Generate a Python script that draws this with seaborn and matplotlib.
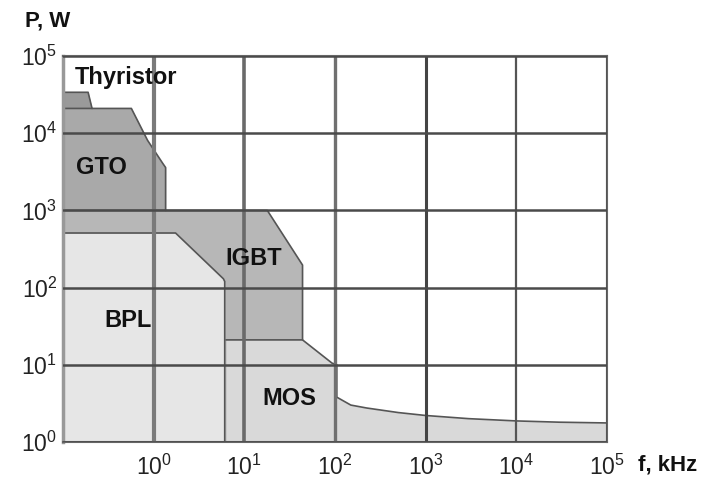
import numpy as np
import matplotlib
matplotlib.use("Agg")
import matplotlib.pyplot as plt
import seaborn as sns

# region boundaries (f in kHz, P in W)
thy_f = [0.1, 0.19, 0.21]
thy_p = [34000, 34000, 21000]

gto_f = [0.1, 0.57, 0.86, 1.26, 1.36, 1.36]
gto_p = [21000, 21000, 8100, 4100, 3600, 1000]

igbt_f = [0.1, 18, 44, 44]
igbt_p = [1000, 1000, 196, 21]

bpl_f = [0.1, 1.75, 5.9, 6.1, 6.1]
bpl_p = [510, 510, 130, 120, 1]

mos_f = [6.3, 44, 93, 105, 105, 150, 224, 500, 1000, 3000, 10000, 30000, 100000]
mos_p = [21, 21, 10.5, 10, 3.8, 3.0, 2.75, 2.4, 2.2, 2.0, 1.87, 1.8, 1.76]

regions = [
    ("Thyristor", thy_f, thy_p, "#9a9a9a"),
    ("GTO", gto_f, gto_p, "#a9a9a9"),
    ("IGBT", igbt_f, igbt_p, "#b7b7b7"),
    ("BPL", bpl_f, bpl_p, "#e6e6e6"),
    ("MOS", mos_f, mos_p, "#d9d9d9"),
]

# label positions
labels = {"Thyristor": (0.134, 53500), "GTO": (0.141, 3550),
          "IGBT": (6.25, 240), "BPL": (0.288, 37), "MOS": (16, 3.6)}

sns.set_style("white")
plt.rcParams['font.family'] = ['Liberation Sans', 'DejaVu Sans']
plt.rcParams['mathtext.fontset'] = 'custom'
plt.rcParams['mathtext.rm'] = 'Liberation Sans'
plt.rcParams['mathtext.it'] = 'Liberation Sans'

fig = plt.figure(figsize=(7.14, 4.84), dpi=100)
ax = fig.add_axes([0.088, 0.087, 0.762, 0.797])
ax.set_xscale("log")
ax.set_yscale("log")

for name, f, p, c in regions:
    ax.fill_between(f, p, 1, color=c, lw=0, zorder=1)
    sns.lineplot(x=f, y=p, ax=ax, color="#555555", lw=1.2, sort=False,
                 estimator=None, zorder=2)

for name, (x, y) in labels.items():
    ax.text(x, y, name, fontsize=17, fontweight="bold", ha="left", va="center",
            color="#111111", zorder=5)

ax.set_xlim(0.1, 1e5)
ax.set_ylim(1, 1e5)

xt = [1, 10, 100, 1000, 10000, 100000]
yt = [1, 10, 100, 1000, 10000, 100000]
ax.set_xticks(xt)
ax.set_yticks(yt)
ax.set_xticklabels([r"$10^{%d}$" % i for i in range(6)])
ax.set_yticklabels([r"$10^{%d}$" % i for i in range(6)])
ax.minorticks_off()
ax.tick_params(axis="both", length=0, labelsize=16.5, colors="#222222")
ax.tick_params(axis="x", pad=9)
ax.tick_params(axis="y", pad=4)

# vertical grid: the first decades look lighter and wider in the scan
vgrid = {1: ("#7a7a7a", 3.0), 10: ("#6a6a6a", 2.6), 100: ("#707070", 2.4),
         1000: ("#444444", 2.2), 10000: ("#555555", 1.6), 100000: ("#555555", 2.2)}
for v in xt:
    c, w = vgrid[v]
    ax.axvline(v, color=c, lw=w, zorder=3)
for v in yt:
    ax.axhline(v, color="#4a4a4a", lw=1.8, zorder=3)

for s in ax.spines.values():
    s.set_color("#666666")
    s.set_linewidth(1.5)
ax.spines["left"].set_color("#999999")
ax.spines["left"].set_linewidth(2.5)

fig.text(25 / 714, 1 - 21 / 484, "P, W", fontsize=16, fontweight="bold",
         ha="left", va="center", color="#111111")
fig.text(638 / 714, 1 - 465 / 484, "f, kHz", fontsize=16, fontweight="bold",
         ha="left", va="center", color="#111111")

fig.savefig("out.png", dpi=100, facecolor="white")
